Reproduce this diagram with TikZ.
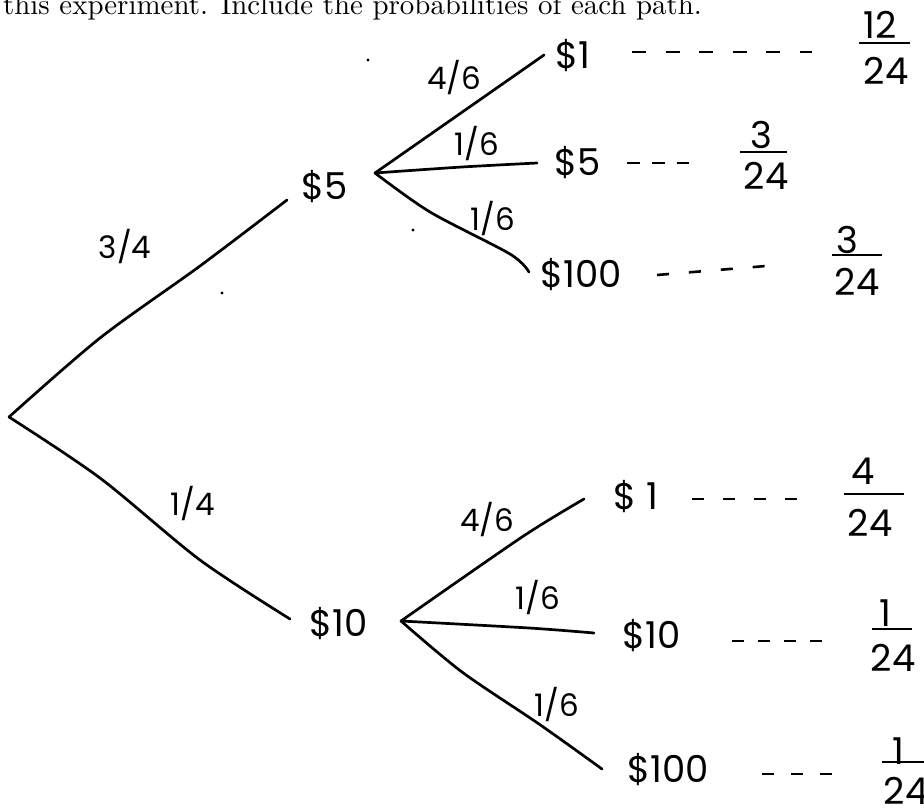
\documentclass[tikz,border=0pt]{standalone}
\usepackage{fontspec}
\newfontfamily\hand{Poppins}
\begin{document}
\begin{tikzpicture}[x=1pt,y=-1pt,
  branch/.style={line width=2.7pt, line cap=round, line join=round},
  lbl/.style={font={\hand\fontsize{37}{37}\selectfont}, inner sep=0pt},
  prob/.style={font={\hand\fontsize{31}{31}\selectfont}, inner sep=0pt},
  num/.style={font={\hand\fontsize{37}{37}\selectfont}, inner sep=0pt},
  fbar/.style={line width=2.5pt},
  dashline/.style={line width=2.6pt, line cap=butt},
  speck/.style={fill=black},
]
\clip (0,0) rectangle (924,808);
\useasboundingbox (0,0) rectangle (924,808);

% heading
\node[anchor=base west, inner sep=0pt, scale=2.89] (title) at (2.5,15)
  {this experiment. Include the probabilities of each path.};

% vertices and line ends
\coordinate (root) at (9,417);
\coordinate (v5) at (375,173);
\coordinate (v10) at (401,621);
\coordinate (e5) at (287,200);
\coordinate (e10) at (290,619);
\coordinate (a1) at (544,55);
\coordinate (a2) at (537,163);
\coordinate (a3) at (529,272);
\coordinate (b1) at (584,499);
\coordinate (b2) at (594,633);
\coordinate (b3) at (602,769);

% outcome labels
\node[lbl] (n5) at (325,187) {\$5};
\node[lbl] (n10) at (339,624) {\$10};
\node[lbl] (l1) at (573,56) {\$1};
\node[lbl] (l2) at (578,163) {\$5};
\node[lbl] (l3) at (581,275) {\$100};
\node[lbl] (m1) at (636,497) {\$ 1};
\node[lbl] (m2) at (652,636) {\$10};
\node[lbl] (m3) at (668,770) {\$100};

% branch probabilities
\node[prob] (p34) at (125,247) {3/4};
\node[prob] (p14) at (193,504) {1/4};
\node[prob] (pa1) at (454,78) {4/6};
\node[prob] (pa2) at (477,144) {1/6};
\node[prob] (pa3) at (493,219) {1/6};
\node[prob] (pb1) at (487,520) {4/6};
\node[prob] (pb2) at (538,598) {1/6};
\node[prob] (pb3) at (557,705) {1/6};

% tree branches
\draw[branch] plot[smooth, tension=0.5] coordinates {(root) (100,338) (200,266) (e5)};
\draw[branch] plot[smooth, tension=0.5] coordinates {(root) (100,478) (200,560) (e10)};
\draw[branch] (v5) -- (a1);
\draw[branch] plot[smooth, tension=0.5] coordinates {(v5) (462,167) (a2)};
\draw[branch] plot[smooth, tension=0.5] coordinates {(v5) (430,212) (510,254) (a3)};
\draw[branch] plot[smooth, tension=0.5] coordinates {(v10) (522,537) (b1)};
\draw[branch] plot[smooth, tension=0.5] coordinates {(v10) (529,628) (b2)};
\draw[branch] plot[smooth, tension=0.5] coordinates {(v10) (462,672) (539,724) (b3)};

% dashed leaders
\coordinate (d1s) at (632,52);  \coordinate (d1e) at (812,52);
\coordinate (d2s) at (627,163); \coordinate (d2e) at (689,163);
\coordinate (d3s) at (657,275); \coordinate (d3e) at (766,266);
\coordinate (d4s) at (692,499); \coordinate (d4e) at (797,499);
\coordinate (d5s) at (732,641); \coordinate (d5e) at (822,641);
\coordinate (d6s) at (762,774); \coordinate (d6e) at (832,774);
\draw[dashline, dash pattern=on 14pt off 19.6pt] (d1s) -- (d1e);
\draw[dashline, dash pattern=on 13pt off 12pt] (d2s) -- (d2e);
\draw[dashline, dash pattern=on 12pt off 20pt] (d3s) -- (d3e);
\draw[dashline, dash pattern=on 12pt off 19pt] (d4s) -- (d4e);
\draw[dashline, dash pattern=on 12pt off 14pt] (d5s) -- (d5e);
\draw[dashline, dash pattern=on 12pt off 17pt] (d6s) -- (d6e);

% path probabilities (stacked fractions)
\node[num] (f1n) at (880,25) {12};
\draw[fbar] (859,43) -- (910,43);
\node[num] (f1d) at (886,71) {24};

\node[num] (f2n) at (761,135) {3};
\draw[fbar] (740,152) -- (787,152);
\node[num] (f2d) at (766,176) {24};

\node[num] (f3n) at (847,240) {3};
\draw[fbar] (832,255) -- (882,255);
\node[num] (f3d) at (857,282) {24};

\node[num] (f4n) at (863,471) {4};
\draw[fbar] (844,494) -- (904,494);
\node[num] (f4d) at (870,523) {24};

\node[num] (f5n) at (885,613) {1};
\draw[fbar] (872,629) -- (912,629);
\node[num] (f5d) at (893,658) {24};

\node[num] (f6n) at (898,751) {1};
\draw[fbar] (882,762) -- (935,762);
\node[num] (f6d) at (906,791) {24};

% scan specks
\fill[speck] (368,60) circle (1.6pt);
\fill[speck] (222,293) circle (1.6pt);
\fill[speck] (413,230) circle (1.6pt);
\end{tikzpicture}
\end{document}
